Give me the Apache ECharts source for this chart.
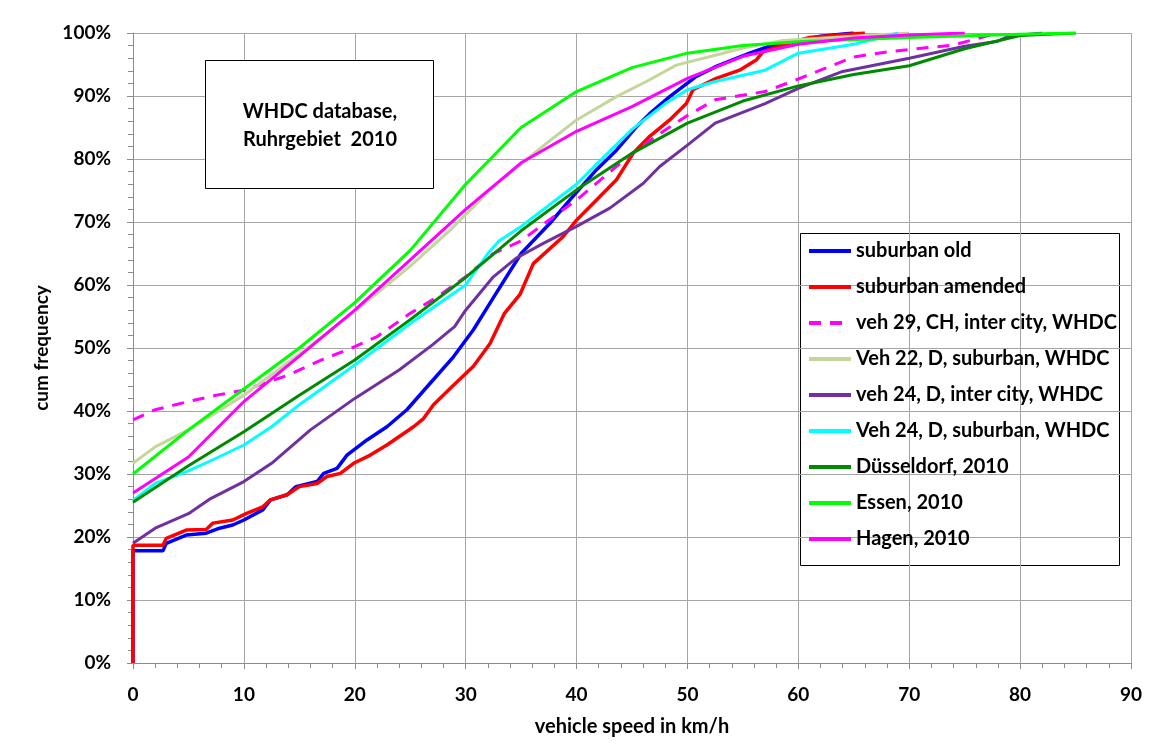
<!DOCTYPE html>
<html><head><meta charset="utf-8">
<script src="https://cdn.jsdelivr.net/npm/echarts@6/dist/echarts.min.js"></script>
<style>html,body{margin:0;padding:0;background:#fff}#c{width:1161px;height:749px}</style>
</head><body><div id="c"></div>
<script>
const xTicks = [0,10,20,30,40,50,60,70,80,90];
const yTicks = ['0%','10%','20%','30%','40%','50%','60%','70%','80%','90%','100%'];
const seriesNames = ['suburban old','suburban amended','veh 29, CH, inter city, WHDC','Veh 22, D, suburban, WHDC','veh 24, D, inter city, WHDC','Veh 24, D, suburban, WHDC','Düsseldorf, 2010','Essen, 2010','Hagen, 2010'];
const suburbanOld = [[0,0],[0,17.8],[2.7,17.8],[3,19],[4.8,20.3],[6.6,20.6],[7.8,21.4],[9,21.9],[10,22.7],[11.7,24.3],[12.4,25.9],[13.9,26.7],[14.7,28],[16.6,28.8],[17.2,30.1],[18.4,30.9],[19.3,33],[21.1,35.4],[22.9,37.5],[24.7,40.2],[26.8,44.4],[28.9,48.6],[30.7,52.9],[32.5,58],[35,65],[37.6,69.8],[39.4,73.5],[41.8,78.3],[43.6,81.4],[45.4,85.1],[46.6,87.2],[48.4,89.9],[50.8,93.1],[52.6,94.7],[55.6,96.8],[57.4,97.9],[59.8,98.7],[62,99.5],[65,100]];
const suburbanAmended = [[0,0],[0,18.7],[2.7,18.7],[3,19.8],[4.8,21.1],[6.6,21.2],[7.2,22.2],[9,22.7],[10.2,23.7],[11.7,24.8],[12.4,25.9],[13.9,26.7],[15,28],[16.6,28.5],[17.5,29.6],[18.7,30.1],[19.9,31.7],[21.4,33],[22.9,34.6],[25.3,37.5],[26.2,38.8],[27.1,41],[28.9,44.1],[30.7,47.1],[32.2,50.7],[33.5,55.5],[34.9,58.5],[36.1,63.4],[38.8,67.7],[40,70.3],[41.8,73.5],[43.6,76.7],[45.1,80.9],[46.6,83.6],[48.4,86.2],[49.9,88.8],[50.5,91],[52.6,92.8],[54.7,94.1],[56.2,95.7],[56.8,97],[58.6,98.1],[61,99.3],[66,100]];
const veh29CH = [[0,38.6],[2,40.2],[5,41.5],[7.5,42.5],[10,43.3],[14,45.7],[17,48.1],[20,50.2],[22,51.8],[25,55.5],[27.5,58.2],[30,61.3],[32.5,65],[35,67],[37.5,70.3],[40,73.5],[42.5,77.2],[45,80.9],[48,84.6],[50,86.9],[52.5,89.4],[57,90.7],[60,92.7],[62,94.1],[65,96.2],[68,97],[74,98.1],[78,100]];
const veh22D = [[0,31.7],[2,34.3],[5,37],[10,42.5],[15,49],[20,55.8],[25,63],[28.6,68.7],[32.5,75.6],[37.3,82.5],[40,86.2],[43.6,89.9],[46.3,92.3],[49,94.9],[52.6,96.5],[55,97.6],[58.6,98.8],[65,99.5],[70,100]];
const veh24DInter = [[0,19],[2,21.4],[5,23.7],[7,26.1],[10,28.8],[12.5,31.7],[16,37],[20,42],[24,46.5],[27,50.5],[29,53.4],[30,56],[32.5,61.3],[34.5,64.2],[37,66.6],[40,69.3],[43,72.2],[46,76.1],[47.5,78.8],[50,82.2],[52.5,85.7],[57,88.8],[60,91.2],[64,93.9],[70,96],[75,97.9],[78,98.7],[79,99.5],[82,100]];
const veh24DSub = [[0,25.8],[2,28.5],[5,30.5],[7.5,32.5],[10,34.6],[12.5,37.5],[15,41],[20,47.3],[25,53.9],[30,60],[32,65],[33,67],[35,69.3],[40,76],[42,79.5],[45,84.7],[48,88.8],[50,91],[52.5,92.3],[57,94.1],[60,96.8],[65,98.2],[68,99.5],[69,100]];
const duesseldorf = [[0,25.5],[5,31.3],[10,36.7],[15,42.5],[20,48.1],[25,54.5],[30,61.2],[35,68.6],[40,75.1],[45,80.9],[50,85.7],[55,89.2],[60,91.6],[65,93.4],[70,94.8],[75,97.5],[80,99.6],[85,100]];
const essen = [[0,30],[5,37],[10,43.5],[15,50],[20,57.2],[25,65.5],[30,76],[35,85],[40,90.7],[45,94.5],[50,96.8],[55,98],[60,98.6],[70,99.3],[80,99.8],[85,100]];
const hagen = [[0,27],[5,32.7],[10,41.5],[15,48.7],[20,56],[25,64],[30,72],[35,79.4],[40,84.4],[45,88.3],[50,92.8],[55,96.3],[60,98.2],[65,99.2],[70,99.7],[75,100]];

const datasets = [suburbanOld, suburbanAmended, veh29CH, veh22D, veh24DInter, veh24DSub, duesseldorf, essen, hagen];
const colors = ['#0000FF','#FF0000','#FF00FF','#C4D79B','#7030A0','#00FFFF','#008A00','#00FF00','#FF00FF'];
const widths = [3.5,3.5,3,3,3,3,3,3,3];
const FONT = 'Lato, "Open Sans", sans-serif';

const chart = echarts.init(document.getElementById('c'), null, {renderer:'canvas'});
chart.setOption({
  animation:false,
  backgroundColor:'#fff',
  grid:{left:133,right:30,top:33,bottom:86,containLabel:false},
  xAxis:{type:'value',min:0,max:90,interval:10,
    name:'vehicle speed in km/h',nameLocation:'middle',nameGap:54,
    nameTextStyle:{fontFamily:FONT,fontWeight:'bold',fontSize:20,color:'#000'},
    axisLine:{show:true,lineStyle:{color:'#8c8c8c',width:1}},
    axisTick:{show:true,length:6,lineStyle:{color:'#8c8c8c'}},
    minorTick:{show:true,splitNumber:5,length:5,lineStyle:{color:'#8c8c8c'}},
    splitLine:{show:true,lineStyle:{color:'#a6a6a6',width:1}},
    axisLabel:{margin:22,fontFamily:FONT,fontWeight:'bold',fontSize:19,color:'#000',formatter:v=>String(xTicks[Math.round(v/10)])}
  },
  yAxis:{type:'value',min:0,max:100,interval:10,
    name:'cum frequency',nameLocation:'middle',nameGap:79,nameRotate:90,
    nameTextStyle:{fontFamily:FONT,fontWeight:'bold',fontSize:19,color:'#000'},
    axisLine:{show:true,lineStyle:{color:'#8c8c8c',width:1}},
    axisTick:{show:true,length:6,lineStyle:{color:'#8c8c8c'}},
    minorTick:{show:true,splitNumber:5,length:5,lineStyle:{color:'#8c8c8c'}},
    splitLine:{show:true,lineStyle:{color:'#a6a6a6',width:1}},
    axisLabel:{margin:22,fontFamily:FONT,fontWeight:'bold',fontSize:19,color:'#000',formatter:v=>yTicks[Math.round(v/10)]}
  },
  legend:{show:true,orient:'vertical',left:807,top:241,padding:0,itemWidth:42,itemHeight:12,itemGap:16,
    data:seriesNames,
    itemStyle:{opacity:0},
    lineStyle:{width:4},
    textStyle:{fontFamily:FONT,fontWeight:'bold',fontSize:20,color:'#000'},
    selectedMode:false},
  graphic:[
    {type:'rect',shape:{x:205.5,y:60.5,width:228,height:128},style:{fill:'#fff',stroke:'#000',lineWidth:1},z:10},
    {type:'text',style:{x:320,y:112,text:'WHDC database,',fill:'#000',font:'bold 20px '+FONT,textAlign:'center',textVerticalAlign:'middle'},z:11},
    {type:'text',style:{x:320,y:140,text:'Ruhrgebiet  2010',fill:'#000',font:'bold 20px '+FONT,textAlign:'center',textVerticalAlign:'middle'},z:11},
    {type:'rect',shape:{x:800.5,y:233.5,width:319,height:332},style:{fill:'#fff',stroke:'#000',lineWidth:1},z:0,zlevel:0}
  ],
  series: datasets.map((d,i)=>({
    name:seriesNames[i],type:'line',data:d,showSymbol:false,symbol:'none',smooth:false,
    color:colors[i],
    lineStyle:{color:colors[i],width:widths[i],type:i===2?[12,9]:'solid'},
    z:2+i
  }))
});
</script></body></html>
